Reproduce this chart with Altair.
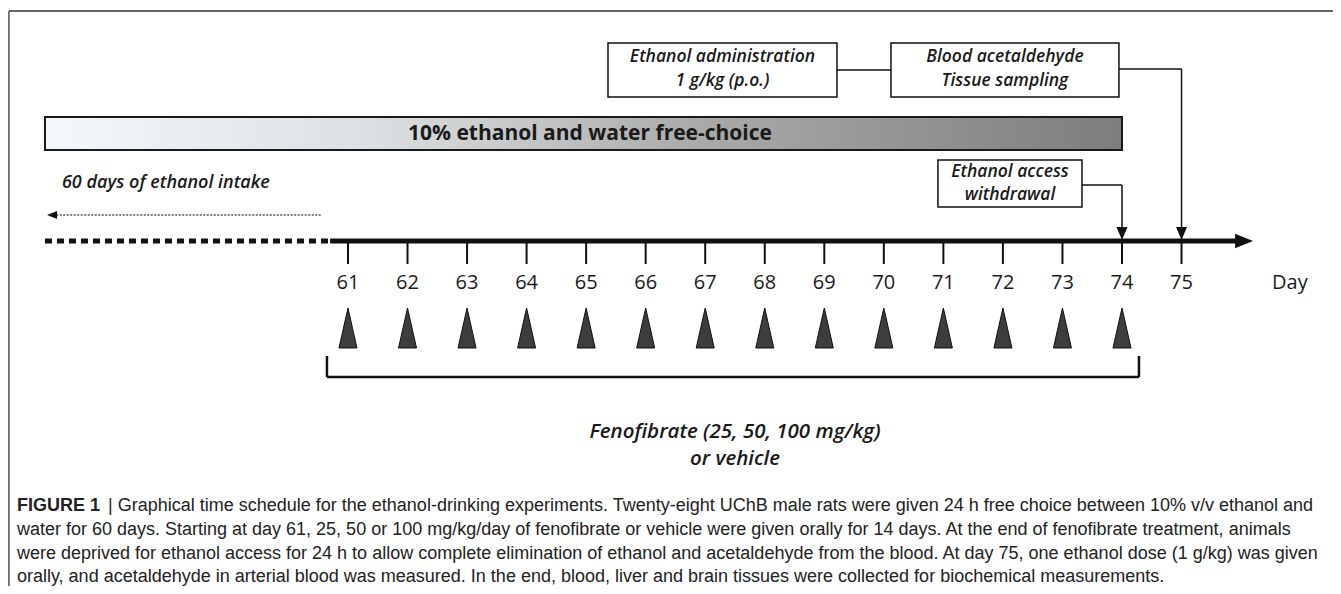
import altair as alt
import pandas as pd

# ---------------- data ----------------
W, H = 1325, 578
X_DOMAIN = [55.29, 77.544]      # timeline in days
Y_DOMAIN = [8, 586]             # vertical layout units (top -> bottom)

days = list(range(61, 76))
tick_labels = [str(d) for d in days]
dose_days = list(range(61, 75))

bar_label = "10% ethanol and water free-choice"
intake_label = "60 days of ethanol intake"
box_labels = [["Ethanol administration", "1 g/kg (p.o.)"],
              ["Blood acetaldehyde", "Tissue sampling"],
              ["Ethanol access", "withdrawal"]]
box_x0 = [65.367, 70.120, 70.909]
box_x1 = [69.213, 73.949, 73.328]
box_y0 = [43, 43, 160]
box_y1 = [97, 97, 207]
box_line_y = [[57, 81], [57, 81], [172, 195]]

treat_labels = ["Fenofibrate (25, 50, 100 mg/kg)", "or vehicle"]
caption_head = "FIGURE 1"
caption_lines = [
    "| Graphical time schedule for the ethanol-drinking experiments. Twenty-eight UChB male rats were given 24 h free choice between 10% v/v ethanol and",
    "water for 60 days. Starting at day 61, 25, 50 or 100 mg/kg/day of fenofibrate or vehicle were given orally for 14 days. At the end of fenofibrate treatment, animals",
    "were deprived for ethanol access for 24 h to allow complete elimination of ethanol and acetaldehyde from the blood. At day 75, one ethanol dose (1 g/kg) was given",
    "orally, and acetaldehyde in arterial blood was measured. In the end, blood, liver and brain tissues were collected for biochemical measurements.",
]
caption_y = [506, 530, 554, 577]

# ---------------- scales ----------------
xs = alt.Scale(domain=X_DOMAIN, nice=False, zero=False)
ys = alt.Scale(domain=Y_DOMAIN, reverse=True, nice=False, zero=False)


def seg_chart(rows, **kw):
    df = pd.DataFrame(rows, columns=["x", "x2", "y", "y2"])
    return alt.Chart(df).mark_rule(**kw).encode(
        x=alt.X("x:Q", scale=xs, axis=None), x2="x2:Q",
        y=alt.Y("y:Q", scale=ys, axis=None), y2="y2:Q")


def text_chart(rows, **kw):
    df = pd.DataFrame(rows, columns=["x", "y", "label"])
    return alt.Chart(df).mark_text(**kw).encode(
        x=alt.X("x:Q", scale=xs, axis=None),
        y=alt.Y("y:Q", scale=ys, axis=None),
        text="label:N")


def point_chart(rows, **kw):
    df = pd.DataFrame(rows, columns=["x", "y"])
    return alt.Chart(df).mark_point(**kw).encode(
        x=alt.X("x:Q", scale=xs, axis=None),
        y=alt.Y("y:Q", scale=ys, axis=None))


layers = []

# frame (top and left border)
layers.append(seg_chart([[55.306, 77.6, 11, 11], [55.306, 55.306, 11, 590]],
                        color="#333333", strokeWidth=1.3))

# gradient bar
grad = alt.Gradient(gradient="linear",
                    stops=[alt.GradientStop(color="#f4f8fc", offset=0),
                           alt.GradientStop(color="#dde0e2", offset=0.3),
                           alt.GradientStop(color="#ababab", offset=0.6),
                           alt.GradientStop(color="#7d7d7d", offset=1)],
                    x1=0, x2=1, y1=0, y2=0)
bar_df = pd.DataFrame({"x": [55.911], "x2": [74.0], "y": [117], "y2": [150]})
layers.append(alt.Chart(bar_df).mark_rect(fill=grad, stroke="#1a1a1a", strokeWidth=2).encode(
    x=alt.X("x:Q", scale=xs, axis=None), x2="x2:Q",
    y=alt.Y("y:Q", scale=ys, axis=None), y2="y2:Q"))
layers.append(text_chart([[65.065, 134, bar_label]], font="Open Sans", fontSize=21,
                         fontWeight="bold", color="#1a1a1a", align="center", baseline="middle"))

# connectors
layers.append(seg_chart([
    [69.213, 70.120, 70, 70],
    [73.949, 75.0, 69, 69], [75.0, 75.0, 69, 232],
    [73.328, 74.0, 185, 185], [74.0, 74.0, 185, 232],
], color="#111111", strokeWidth=1.5))
layers.append(point_chart([[74.0, 233.5], [75.0, 233.5]], shape="M-0.85,-1L0.85,-1L0,1Z",
                          size=169, filled=True, color="#111111", opacity=1))

# boxes
box_df = pd.DataFrame({"x": box_x0, "x2": box_x1, "y": box_y0, "y2": box_y1})
layers.append(alt.Chart(box_df).mark_rect(fill="white", stroke="#111111", strokeWidth=1.5).encode(
    x=alt.X("x:Q", scale=xs, axis=None), x2="x2:Q",
    y=alt.Y("y:Q", scale=ys, axis=None), y2="y2:Q"))
box_text = []
for x0, x1, lines, ly in zip(box_x0, box_x1, box_labels, box_line_y):
    for t, yy in zip(lines, ly):
        box_text.append([(x0 + x1) / 2, yy, t])
layers.append(text_chart(box_text, font="Open Sans", fontSize=17.5, fontStyle="italic",
                         fontWeight=600, color="#1a1a1a", align="center", baseline="middle"))

# intake label and dotted arrow
layers.append(text_chart([[56.196, 183, intake_label]], font="Open Sans", fontSize=18,
                         fontStyle="italic", fontWeight=600, color="#1a1a1a",
                         align="left", baseline="middle"))
layers.append(seg_chart([[56.1, 60.547, 215, 215]], color="#555555", strokeWidth=1.6,
                        strokeDash=[2, 1.5]))
layers.append(point_chart([[56.03, 215]], shape="M1,-0.8L-1,0L1,0.8Z", size=100,
                          filled=True, color="#111111", opacity=1))

# main time axis
layers.append(seg_chart([[55.911, 60.664, 241, 241]], color="#111111", strokeWidth=5,
                        strokeDash=[7, 5], strokeCap="butt"))
layers.append(seg_chart([[60.70, 75.95, 241, 241]], color="#111111", strokeWidth=5,
                        strokeCap="butt"))
layers.append(point_chart([[76.05, 241]], shape="M-1,-0.8L1,0L-1,0.8Z", size=324,
                          filled=True, color="#111111", opacity=1))
layers.append(seg_chart([[d, d, 241, 264] for d in days], color="#111111", strokeWidth=2))
layers.append(text_chart([[d, 283, t] for d, t in zip(days, tick_labels)] + [[76.82, 283, "Day"]],
                         font="Open Sans", fontSize=20, color="#1a1a1a",
                         align="center", baseline="middle"))

# dose triangles
layers.append(point_chart([[d, 328] for d in dose_days], shape="M0,-1L0.45,1L-0.45,1Z",
                          size=1600, filled=True, fill="#3d3d3d", stroke="#111111",
                          strokeWidth=1, opacity=1))

# bracket
layers.append(seg_chart([[60.647, 74.285, 377, 377], [60.647, 60.647, 356, 377],
                         [74.285, 74.285, 356, 377]], color="#111111", strokeWidth=2.5))
layers.append(text_chart([[67.50, 432, treat_labels[0]], [67.50, 459, treat_labels[1]]],
                         font="Open Sans", fontSize=20.5, fontStyle="italic", fontWeight=600,
                         color="#1a1a1a", align="center", baseline="middle"))

# caption
layers.append(text_chart([[55.44, caption_y[0], caption_head]], font="Liberation Sans",
                         fontSize=18, fontWeight="bold", color="#222222",
                         align="left", baseline="middle"))
cap_rows = [[56.97, caption_y[0], caption_lines[0]]] + \
           [[55.44, y, t] for y, t in zip(caption_y[1:], caption_lines[1:])]
layers.append(text_chart(cap_rows, font="Liberation Sans", fontSize=18, color="#222222",
                         align="left", baseline="middle"))

chart = alt.layer(*layers).properties(
    width=W, height=H, padding=0, autosize="none", background="white"
).configure_view(stroke=None)

chart.save("out.html", embed_options={"renderer": "svg", "actions": False})
